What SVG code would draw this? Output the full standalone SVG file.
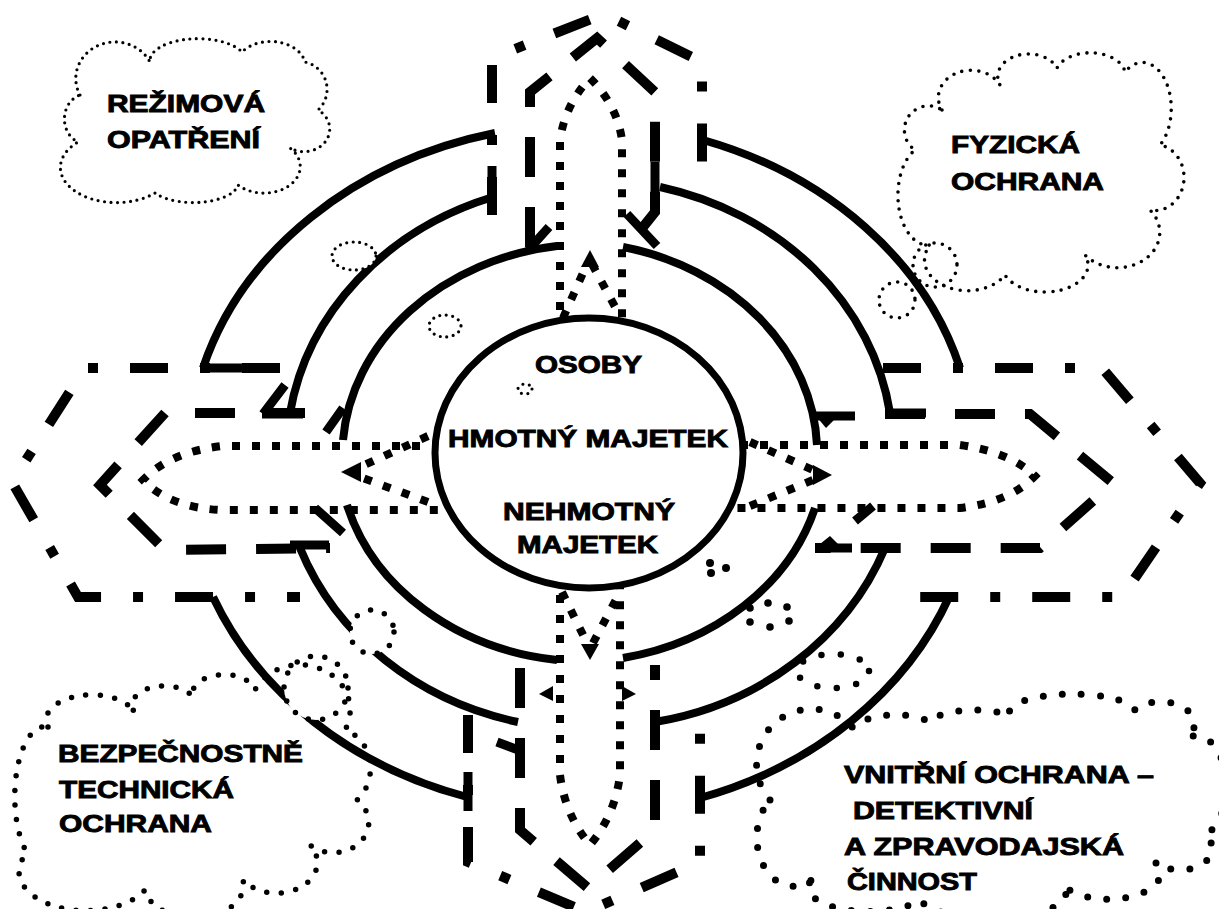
<svg xmlns="http://www.w3.org/2000/svg" width="1219" height="909" viewBox="0 0 1219 909">
<style>
.arc{fill:none;stroke:#000;stroke-width:8}
.bar{fill:none;stroke:#000;stroke-width:9}
.dd{fill:none;stroke:#000;stroke-width:10;stroke-dasharray:38 32 10 32}
.da{fill:none;stroke:#000;stroke-width:10;stroke-dasharray:40 30}
.dt{fill:none;stroke:#000;stroke-width:8;stroke-dasharray:8 12}
.tip{fill:#000}
.c1{fill:none;stroke:#000;stroke-width:3.2;stroke-linecap:round;stroke-dasharray:0 6.5}
.c2{fill:none;stroke:#000;stroke-width:3.6;stroke-linecap:round;stroke-dasharray:0 8.5}
.c3{fill:none;stroke:#000;stroke-width:5.5;stroke-linecap:round;stroke-dasharray:0 14.5}
.c4{fill:none;stroke:#000;stroke-width:7;stroke-linecap:round;stroke-dasharray:0 19}
.w{fill:#fff}
.t{font-family:"Liberation Sans",Arial,sans-serif;font-weight:bold;font-size:24px;fill:#000;stroke:#000;stroke-width:0.9}
</style>
<rect width="1219" height="909" fill="#fff"/>

<g id="connectors">
  <path class="arc" d="M 203 368 A 400 335 0 0 1 495 133"/>
  <path class="arc" d="M 703 140 A 400 335 0 0 1 960 368"/>
  <path class="arc" d="M 950 595 A 400 345 0 0 1 700 798"/>
  <path class="arc" d="M 467 797 A 400 345 0 0 1 213 597"/>
  <path class="arc" d="M 290 413 A 305 272 0 0 1 493 197"/>
  <path class="arc" d="M 660 187 A 305 272 0 0 1 890 413"/>
  <path class="arc" d="M 885 548 A 305 280 0 0 1 655 722"/>
  <path class="arc" d="M 518 722 A 305 280 0 0 1 300 548"/>
  <path class="arc" d="M 343 440 A 250 212 0 0 1 557 246"/>
  <path class="arc" d="M 623 247 A 250 212 0 0 1 817 445"/>
  <path class="arc" d="M 815 508 A 250 212 0 0 1 623 658"/>
  <path class="arc" d="M 557 660 A 250 212 0 0 1 347 505"/>
  <path class="bar" d="M 200 368 H 242 M 262 414 H 303 M 285 385 L 263 414 M 492 166 V 206 M 326 432 L 343 408 M 530 222 V 249 M 549 227 L 530 248 M 655 162 V 206 M 885 413 H 926 M 627 214 L 657 246 M 815 416 H 855 M 815 548 H 852 M 290 545 H 329 M 315 508 L 343 533 M 855 521 L 873 506 M 468 772 V 811 M 497 742 L 521 751 M 700 788 V 806"/>
  <polygon class="tip" points="816,416 838,416 826,428"/>
  <polygon class="tip" points="815,548 842,548 830,536"/>
  <polygon class="tip" points="553,686 539,694 553,701"/>
  <polygon class="tip" points="622,686 636,694 622,701"/>
</g>

<g id="arrow-top">
  <path class="dd" d="M 492 215 L 492 58 L 604 14 L 702 62 L 702 172"/>
  <path class="da" d="M 530 247 L 530 92 L 597 38 L 655 92 L 655 212 L 628 246"/>
  <path class="dt" d="M 560 330 L 560 140 Q 565 105 590 78 Q 617 105 622 140 L 622 330"/>
  <path class="dt" d="M 563 318 L 587 264 M 592 264 L 620 316"/>
  <polygon class="tip" points="590,250 581,267 599,267"/>
</g>

<g id="arrow-bottom">
  <path class="dd" d="M 468 715 L 468 862 L 586 912 L 700 862 L 700 715"/>
  <path class="da" d="M 520 668 L 520 830 L 588 888 L 655 830 L 655 665"/>
  <path class="dt" d="M 560 575 L 560 775 Q 565 815 590 845 Q 615 815 620 775 L 620 575"/>
  <path class="dt" d="M 562 592 L 587 643 M 593 643 L 620 592"/>
  <polygon class="tip" points="590,660 581,644 599,644"/>
</g>

<g id="arrow-left">
  <path class="dd" d="M 280 368 L 85 368 L 12 482 L 78 597 L 300 597"/>
  <path class="da" d="M 305 413 L 165 413 L 100 485 L 165 550 L 330 548"/>
  <path class="dt" d="M 440 446 L 222 446 Q 170 452 143 480 Q 170 508 222 510 L 450 510"/>
  <path class="dt" d="M 428 436 L 360 467 M 428 502 L 360 477"/>
  <polygon class="tip" points="341,472 361,462 361,482"/>
</g>

<g id="arrow-right">
  <path class="dd" d="M 883 368 L 1102 368 L 1200 483 L 1122 597 L 893 597"/>
  <path class="da" d="M 885 414 L 1030 414 L 1113 483 L 1040 548 L 815 548"/>
  <path class="dt" d="M 740 445 L 960 445 Q 1010 452 1035 476 Q 1010 502 960 508 L 735 508"/>
  <path class="dt" d="M 750 442 L 813 470 M 750 506 L 813 480"/>
  <polygon class="tip" points="832,475 813,465 813,485"/>
</g>

<g id="center">
  <ellipse cx="589" cy="453" rx="154" ry="135" fill="#fff" stroke="#000" stroke-width="7"/>
  <text class="t" x="535" y="373" textLength="107" lengthAdjust="spacingAndGlyphs">OSOBY</text>
  <text class="t" x="448" y="447" textLength="280" lengthAdjust="spacingAndGlyphs">HMOTNÝ MAJETEK</text>
  <text class="t" x="503" y="520" textLength="172" lengthAdjust="spacingAndGlyphs">NEHMOTNÝ</text>
  <text class="t" x="517" y="553" textLength="141" lengthAdjust="spacingAndGlyphs">MAJETEK</text>
</g>

<g id="bubbles">
  <ellipse class="c1 w" cx="354" cy="256" rx="22" ry="14"/>
  <ellipse class="c1" cx="445" cy="326" rx="16" ry="11"/>
  <ellipse class="c1" cx="525" cy="389" rx="7" ry="5"/>
  <circle class="c2" cx="935" cy="265" r="22"/>
  <circle class="c2" cx="897" cy="300" r="18"/>
  <circle class="c3 w" cx="316" cy="688" r="32"/>
  <circle class="c3 w" cx="372" cy="632" r="22"/>
  <ellipse class="c4" cx="833" cy="671" rx="36" ry="17" style="stroke-width:6.5;stroke-dasharray:0 19.5"/>
  <g class="tip">
    <circle cx="750" cy="608" r="3.8"/><circle cx="768" cy="603" r="3.8"/><circle cx="787" cy="607" r="3.8"/>
    <circle cx="750" cy="622" r="3.8"/><circle cx="770" cy="627" r="3.8"/><circle cx="789" cy="621" r="3.8"/>
    <circle cx="710" cy="563" r="4"/><circle cx="711" cy="573" r="4"/><circle cx="726" cy="568" r="4"/>
  </g>
</g>

<g id="node-rezimova">
  <path class="c1" d="M 80 95 A 30 28 0 0 1 150 62 A 48 22 0 0 1 242 52 A 35 25 0 0 1 305 62 A 28 28 0 0 1 318 110 A 25 22 0 0 1 290 148 A 30 22 0 0 1 238 185 A 45 20 0 0 1 155 193 A 40 25 0 0 1 78 142 A 22 25 0 0 1 80 95 Z"/>
  <text class="t" x="107" y="112" textLength="158" lengthAdjust="spacingAndGlyphs">REŽIMOVÁ</text>
  <text class="t" x="107" y="148" textLength="153" lengthAdjust="spacingAndGlyphs">OPATŘENÍ</text>
</g>

<g id="node-fyzicka">
  <path class="c2" d="M 942 110 A 30 25 0 0 1 1000 85 A 30 22 0 0 1 1057 68 A 35 22 0 0 1 1125 72 A 25 40 0 0 1 1160 145 A 22 25 0 0 1 1150 210 A 30 25 0 0 1 1085 255 A 35 22 0 0 1 1005 275 A 35 25 0 0 1 930 245 A 30 50 0 0 1 915 150 A 20 20 0 0 1 942 110 Z"/>
  <text class="t" x="951" y="153" textLength="129" lengthAdjust="spacingAndGlyphs">FYZICKÁ</text>
  <text class="t" x="951" y="190" textLength="153" lengthAdjust="spacingAndGlyphs">OCHRANA</text>
</g>

<g id="node-bezpecnostne">
  <path class="c3" d="M 48 727 A 45 25 0 0 1 135 713 A 30 18 0 0 1 193 697 A 30 18 0 0 1 255 690 A 50 45 0 0 1 345 730 A 35 40 0 0 1 357 800 A 35 30 0 0 1 310 845 A 40 30 0 0 1 243 880 A 45 30 0 0 1 145 890 A 60 35 0 0 1 27 853 A 30 70 0 0 1 48 727 Z"/>
  <text class="t" x="58" y="762" textLength="245" lengthAdjust="spacingAndGlyphs">BEZPEČNOSTNĚ</text>
  <text class="t" x="59" y="798" textLength="175" lengthAdjust="spacingAndGlyphs">TECHNICKÁ</text>
  <text class="t" x="59" y="832" textLength="153" lengthAdjust="spacingAndGlyphs">OCHRANA</text>
</g>

<g id="node-vnitrni">
  <path class="c4" d="M 770 800 A 40 40 0 0 1 853 728 A 45 20 0 0 1 930 722 A 45 15 0 0 1 1010 716 A 60 18 0 0 1 1135 710 A 30 20 0 0 1 1187 738 A 30 50 0 0 1 1205 835 A 30 20 0 0 1 1155 862 A 40 20 0 0 1 1063 885 A 70 25 0 0 1 920 900 A 50 20 0 0 1 817 875 A 30 40 0 0 1 770 800 Z"/>
  <text class="t" x="844" y="783" textLength="310" lengthAdjust="spacingAndGlyphs">VNITŘNÍ OCHRANA –</text>
  <text class="t" x="853" y="819" textLength="180" lengthAdjust="spacingAndGlyphs">DETEKTIVNÍ</text>
  <text class="t" x="844" y="855" textLength="280" lengthAdjust="spacingAndGlyphs">A ZPRAVODAJSKÁ</text>
  <text class="t" x="847" y="890" textLength="130" lengthAdjust="spacingAndGlyphs">ČINNOST</text>
</g>
</svg>
